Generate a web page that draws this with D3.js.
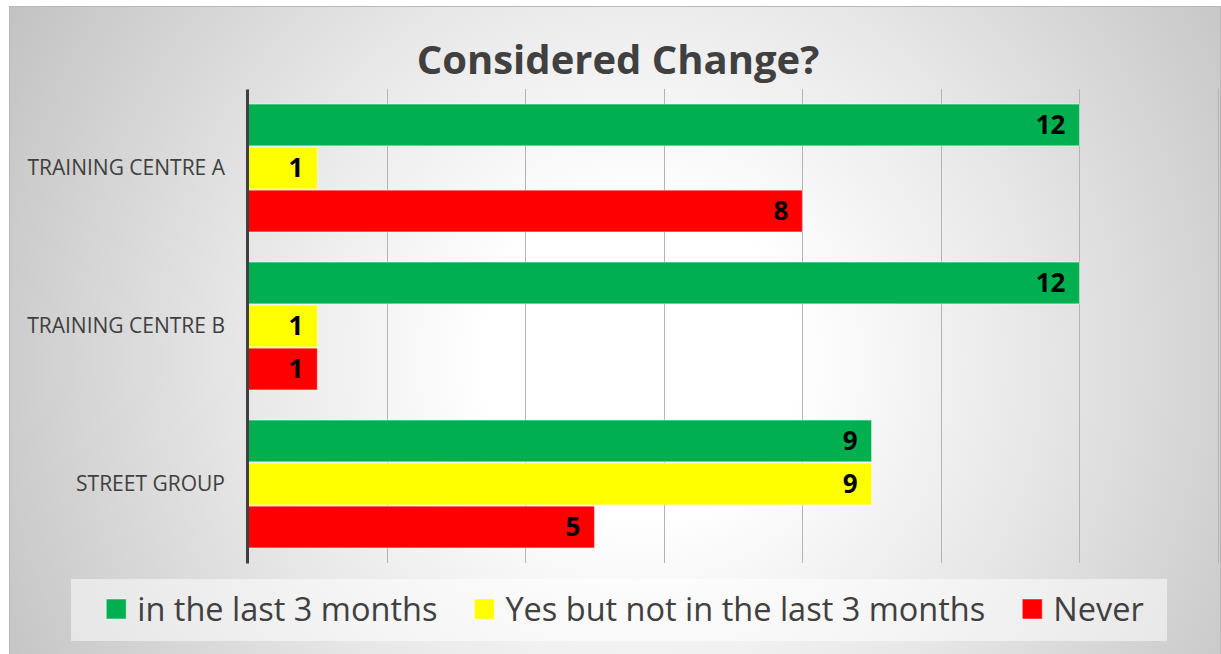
<!DOCTYPE html>
<html>
<head>
<meta charset="utf-8">
<script src="https://cdnjs.cloudflare.com/ajax/libs/d3/7.8.5/d3.min.js"></script>
<style>
  body { margin: 0; background: #fff; }
  svg { display: block; font-family: "Open Sans", sans-serif; }
</style>
</head>
<body>
<svg width="1221" height="654"></svg>
<script>
// chart values
var categories = ["TRAINING CENTRE A", "TRAINING CENTRE B", "STREET GROUP"];
var seriesNames = ["in the last 3 months", "Yes but not in the last 3 months", "Never"];
var inLast3Months = [12, 12, 9];
var yesNotLast3Months = [1, 1, 9];
var neverValues = [8, 1, 5];
var xTicks = [0, 2, 4, 6, 8, 10, 12, 14];
var seriesColors = ["#00b050", "#ffff00", "#ff0000"];

var seriesValues = [inLast3Months, yesNotLast3Months, neverValues];

var svg = d3.select("svg");
var textColor = "#404040";

// background gradient
var defs = svg.append("defs");
var grad = defs.append("radialGradient")
    .attr("id", "bg")
    .attr("gradientUnits", "userSpaceOnUse")
    .attr("cx", 640).attr("cy", 360).attr("r", 780);
grad.append("stop").attr("offset", "0.2").attr("stop-color", "#ffffff");
grad.append("stop").attr("offset", "0.5").attr("stop-color", "#e8e8e8");
grad.append("stop").attr("offset", "1").attr("stop-color", "#bcbcbc");

svg.append("rect")
    .attr("x", 9.5).attr("y", 6.5)
    .attr("width", 1211).attr("height", 650)
    .attr("fill", "url(#bg)")
    .attr("stroke", "#b8b8b8");

// scales
var x = d3.scaleLinear().domain([0, 14]).range([248, 1218]);

var y0 = d3.scaleBand().domain(categories).range([89, 563]).padding(0);

var y1 = d3.scaleBand().domain(seriesNames)
    .range([0, y0.bandwidth()])
    .paddingInner(0.03)
    .paddingOuter(0.35);

// gridlines
svg.append("g")
    .selectAll("line")
    .data(xTicks)
    .enter().append("line")
    .attr("x1", function(d) { return Math.round(x(d)) + 0.5; })
    .attr("x2", function(d) { return Math.round(x(d)) + 0.5; })
    .attr("y1", 89).attr("y2", 563)
    .attr("stroke", "#b4b4b4")
    .attr("stroke-width", 1);

// bars
var groups = svg.append("g")
    .selectAll("g")
    .data(categories)
    .enter().append("g")
    .attr("transform", function(d) { return "translate(0," + y0(d) + ")"; });

groups.each(function(cat, ci) {
    var g = d3.select(this);
    var rows = seriesNames.map(function(s, si) {
        return { series: s, value: seriesValues[si][ci], color: seriesColors[si] };
    });

    g.selectAll("rect")
        .data(rows)
        .enter().append("rect")
        .attr("x", x(0))
        .attr("y", function(d) { return y1(d.series); })
        .attr("width", function(d) { return x(d.value) - x(0); })
        .attr("height", y1.bandwidth())
        .attr("fill", function(d) { return d.color; })
        .attr("stroke", "#ffffff")
        .attr("stroke-opacity", 0.45)
        .attr("stroke-width", 1);

    g.selectAll("text")
        .data(rows)
        .enter().append("text")
        .attr("x", function(d) { return x(d.value) - 14; })
        .attr("y", function(d) { return y1(d.series) + y1.bandwidth() / 2; })
        .attr("dy", "0.36em")
        .attr("text-anchor", "end")
        .attr("font-size", 26)
        .attr("font-weight", "bold")
        .attr("fill", "#000")
        .text(function(d) { return d.value; });
});

// category axis
var yAxis = d3.axisLeft(y0).tickSize(0).tickPadding(22);
var yg = svg.append("g")
    .attr("transform", "translate(" + 247 + ",0)")
    .call(yAxis);
yg.select(".domain")
    .attr("stroke", textColor)
    .attr("stroke-width", 3);
yg.selectAll("text")
    .attr("font-family", "Open Sans")
    .attr("font-size", 21)
    .attr("fill", textColor)
    .attr("dy", "0.34em");

// title
svg.append("text")
    .attr("x", 618).attr("y", 74)
    .attr("text-anchor", "middle")
    .attr("font-size", 40)
    .attr("font-weight", "bold")
    .attr("fill", textColor)
    .text("Considered Change?");

// legend
var legend = svg.append("g");
legend.append("rect")
    .attr("x", 71).attr("y", 579)
    .attr("width", 1096).attr("height", 62)
    .attr("fill", "#ffffff")
    .attr("fill-opacity", 0.5);

var items = legend.selectAll("g.item")
    .data(seriesNames)
    .enter().append("g")
    .attr("class", "item");

items.append("rect")
    .attr("width", 20).attr("height", 20)
    .attr("y", 599)
    .attr("fill", function(d, i) { return seriesColors[i]; })
    .attr("stroke", "#ffffff")
    .attr("stroke-opacity", 0.5);

items.append("text")
    .attr("y", 609)
    .attr("dy", "0.36em")
    .attr("font-size", 32.5)
    .attr("fill", textColor)
    .text(function(d) { return d; });

// lay out legend items from measured widths, centred in the box
var gap = 37, swatchGap = 11;
var widths = [];
items.select("text").each(function() { widths.push(this.getComputedTextLength()); });
var total = d3.sum(widths) + widths.length * (20 + swatchGap) + gap * (widths.length - 1);
var cursor = 625 - total / 2;
items.each(function(d, i) {
    var it = d3.select(this);
    it.select("rect").attr("x", cursor);
    it.select("text").attr("x", cursor + 20 + swatchGap);
    cursor += 20 + swatchGap + widths[i] + gap;
});
</script>
</body>
</html>
